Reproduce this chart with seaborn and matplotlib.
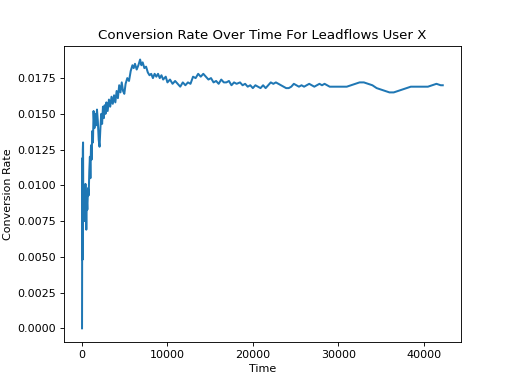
import pandas as pd
import matplotlib
matplotlib.use('Agg')
import matplotlib.pyplot as plt
import seaborn as sns

# Valores (tempo e taxa de conversao acumulada)
time = [
    0, 30, 60, 90, 120, 150, 200, 250, 300, 350, 400, 450, 500, 560, 620,
    700, 780, 850, 920, 980, 1050, 1120, 1200, 1280, 1350, 1450, 1550, 1650,
    1750, 1850, 1950, 2050, 2150, 2250, 2350, 2450, 2550, 2650, 2750, 2850,
    3000, 3150, 3300, 3450, 3600, 3750, 3900, 4050, 4200, 4350, 4500, 4650,
    4800, 4950, 5100, 5300, 5500, 5700, 5900, 6050, 6200, 6400, 6600, 6800,
    6950, 7100, 7300, 7500, 7700, 7900, 8100, 8300, 8500, 8700, 8900, 9100,
    9300, 9500, 9800, 10000, 10300, 10600, 10900, 11200, 11500, 11800, 12100,
    12400, 12700, 13000, 13300, 13600, 13900, 14200, 14500, 14800, 15100,
    15400, 15700, 16000, 16300, 16600, 16900, 17200, 17500, 17800, 18100,
    18500, 18800, 19100, 19400, 19700, 20000, 20300, 20600, 20900, 21200,
    21500, 21800, 22100, 22400, 22700, 23000, 23300, 23600, 23900, 24200,
    24500, 24800, 25100, 25400, 25700, 26000, 26300, 26600, 26900, 27200,
    27500, 27800, 28100, 28400, 28700, 29000, 29500, 30000, 30500, 31000,
    31500, 32000, 32500, 33000, 33500, 34000, 34500, 35000, 35500, 36000,
    36500, 37000, 37500, 38000, 38500, 39000, 39500, 40000, 40500, 41000,
    41500, 42000, 42240,
]
rate = [
    0.0000, 0.0119, 0.0048, 0.0125, 0.0130, 0.0080, 0.0098, 0.0075, 0.0092,
    0.0079, 0.0101, 0.0085, 0.0069, 0.0090, 0.0083, 0.0098, 0.0093, 0.0110,
    0.0120, 0.0105, 0.0128, 0.0118, 0.0138, 0.0130, 0.0152, 0.0140, 0.0150,
    0.0142, 0.0153, 0.0145, 0.0132, 0.0127, 0.0140, 0.0150, 0.0143, 0.0155,
    0.0147, 0.0156, 0.0150, 0.0158, 0.0152, 0.0160, 0.0155, 0.0162, 0.0157,
    0.0163, 0.0158, 0.0166, 0.0161, 0.0170, 0.0165, 0.0172, 0.0166, 0.0164,
    0.0171, 0.0175, 0.0173, 0.0180, 0.0184, 0.0182, 0.0185, 0.0181, 0.0184,
    0.0188, 0.0184, 0.0186, 0.0182, 0.0183, 0.0179, 0.0177, 0.0178, 0.0175,
    0.0178, 0.0176, 0.0178, 0.0175, 0.0177, 0.0174, 0.0176, 0.0172, 0.0174,
    0.0171, 0.0173, 0.0171, 0.0169, 0.0172, 0.0170, 0.0172, 0.0171, 0.0176,
    0.0175, 0.0178, 0.0176, 0.0178, 0.0176, 0.0174, 0.0175, 0.0172, 0.0173,
    0.0171, 0.0174, 0.0172, 0.0172, 0.0173, 0.0170, 0.0172, 0.0171, 0.0172,
    0.0170, 0.0171, 0.0169, 0.0170, 0.0168, 0.0170, 0.0169, 0.0168, 0.0170,
    0.0168, 0.0170, 0.0172, 0.0171, 0.0172, 0.0171, 0.0170, 0.0169, 0.0168,
    0.0168, 0.0169, 0.0171, 0.0170, 0.0169, 0.0170, 0.0169, 0.0170, 0.0171,
    0.0170, 0.0169, 0.0170, 0.0171, 0.0170, 0.0171, 0.0170, 0.0169, 0.0169,
    0.0169, 0.0169, 0.0169, 0.0170, 0.0171, 0.0172, 0.0172, 0.0171, 0.0170,
    0.0168, 0.0167, 0.0166, 0.0165, 0.0165, 0.0166, 0.0167, 0.0168, 0.0169,
    0.0169, 0.0169, 0.0169, 0.0169, 0.0170, 0.0171, 0.0170, 0.0170,
]

df = pd.DataFrame({'Time': time, 'Conversion Rate': rate})

fig = plt.figure(figsize=(6.4, 4.8), dpi=80)
ax = sns.lineplot(x='Time', y='Conversion Rate', data=df, color='#1f77b4', linewidth=1.8)
ax.set_xlabel('Time')
ax.set_ylabel('Conversion Rate')
ax.set_title('Conversion Rate Over Time For Leadflows User X')
plt.savefig('out.png', dpi=80)
